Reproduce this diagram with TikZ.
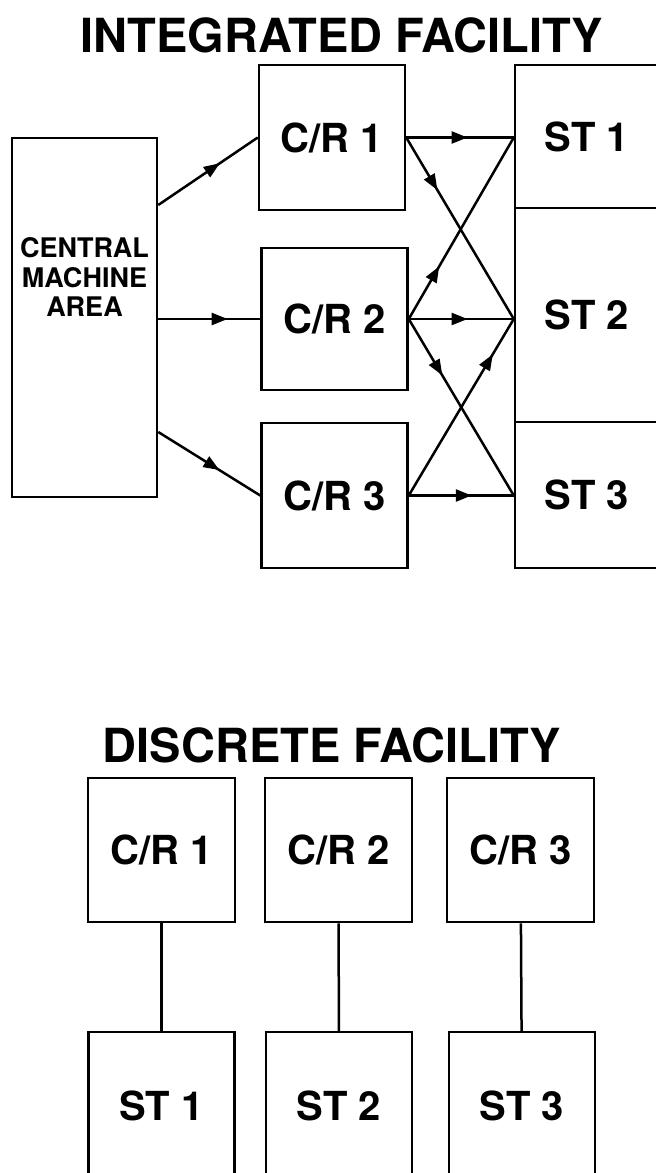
\documentclass[tikz,border=0pt]{standalone}
\usepackage{fontspec}
\setmainfont{TeX Gyre Heros}
\usetikzlibrary{arrows.meta,decorations.markings}
\tikzset{box/.style={draw=black,line width=2.5pt,minimum width=146pt,minimum height=145pt,inner sep=0pt,font=\fontsize{40}{42}\selectfont\bfseries}}
\tikzset{ttl/.style={inner sep=0pt,font=\fontsize{47}{50}\selectfont\bfseries}}
\tikzset{link/.style={draw=black,line width=2.5pt}}
\tikzset{midarrow/.style={link,postaction={decorate},decoration={markings,mark=at position #1 with {\arrow{Triangle[length=16pt,width=12pt]}}}}}

\begin{document}
\begin{tikzpicture}[x=1pt,y=-1pt]
\useasboundingbox (0,0) rectangle (656,1173);
% \draw[help lines] (0,0) grid[step=50] (656,1173);
\node (ititle) [ttl] at (342,35) {INTEGRATED FACILITY};
\node (cma) [box,minimum width=145pt,minimum height=359pt] at (84.5,317.5) {};
\node (cmatext) [align=center,inner sep=0pt,font=\fontsize{27}{29.5}\selectfont\bfseries] at (84.5,277) {CENTRAL\\MACHINE\\AREA};
\node (cr1) [box] at (332,137.5) {C/R 1};
\node (cr2) [box,minimum height=142pt] at (334.5,319) {C/R 2};
\node (cr3) [box] at (334.5,495.5) {C/R 3};
\node (st1) [box,minimum width=144pt,minimum height=143pt] at (587,136.5) {ST 1};
\node (st2) [box,minimum width=144pt,minimum height=214pt] at (587,315) {ST 2};
\node (st3) [box,minimum width=144pt,minimum height=146pt] at (587,495) {ST 3};
%
\path[midarrow=0.62] ([yshift=112.5pt]cma.east) -- (cr1.west);
\path[midarrow=0.68] (cma.east |- cr2.west) -- (cr2.west);
\path[midarrow=0.6] ([yshift=-114.5pt]cma.east) -- (cr3.west);
\path[midarrow=0.57] (cr1.east) -- (st1.west |- cr1.east);
\path[midarrow=0.29] (cr1.east) -- (st2.west |- cr2.east);
\path[midarrow=0.29] (cr2.east) -- (st1.west |- cr1.east);
\path[midarrow=0.56] (cr2.east) -- (st2.west |- cr2.east);
\path[midarrow=0.32] (cr2.east) -- (st3.west |- cr3.east);
\path[midarrow=0.8] (cr3.east) -- (st2.west |- cr2.east);
\path[midarrow=0.6] (cr3.east) -- (st3.west |- cr3.east);
% discrete facility
\node (dtitle) [ttl] at (332,745) {DISCRETE FACILITY};
\node (dcr1) [box,minimum width=147pt,minimum height=144pt] at (161.5,850) {C/R 1};
\node (dcr2) [box,minimum width=147pt,minimum height=144pt] at (338.5,850) {C/R 2};
\node (dcr3) [box,minimum width=147pt,minimum height=144pt] at (520.5,850) {C/R 3};
\node (dst1) [box,minimum height=148pt] at (161.5,1106) {ST 1};
\node (dst2) [box,minimum height=148pt] at (339,1106) {ST 2};
\node (dst3) [box,minimum height=148pt] at (522,1106) {ST 3};
%
\path[link] (dcr1) -- (dst1);
\path[link] (dcr2) -- (dst2);
\path[link] (dcr3) -- (dst3);
\end{tikzpicture}
\end{document}
